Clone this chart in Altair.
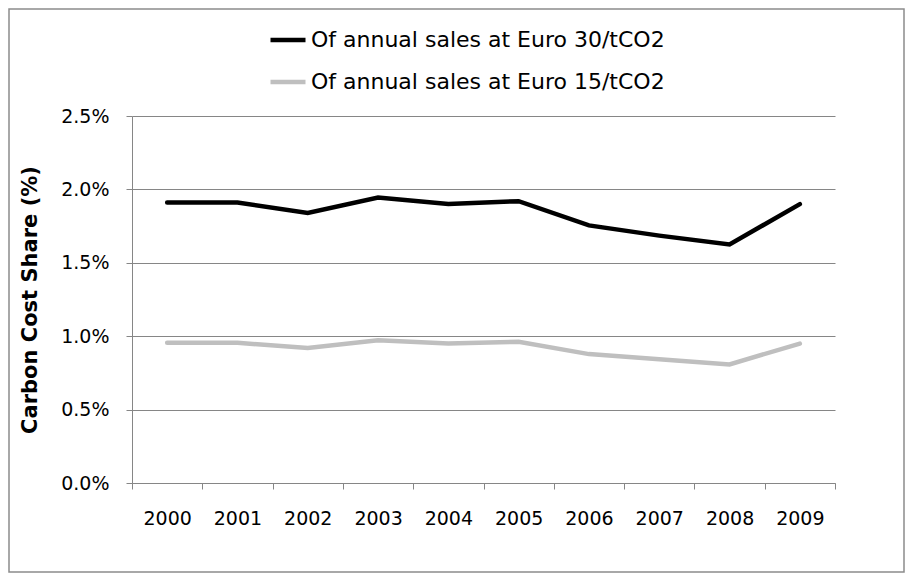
import altair as alt
import pandas as pd

years = ["2000", "2001", "2002", "2003", "2004", "2005", "2006", "2007", "2008", "2009"]
series_30 = [1.91, 1.91, 1.84, 1.945, 1.90, 1.92, 1.755, 1.685, 1.625, 1.90]
series_15 = [0.955, 0.955, 0.92, 0.972, 0.95, 0.962, 0.878, 0.843, 0.808, 0.95]
names = ["Of annual sales at Euro 30/tCO2", "Of annual sales at Euro 15/tCO2"]
colors = ["#000000", "#bfbfbf"]
y_ticks = [0, 0.005, 0.01, 0.015, 0.02, 0.025]

rows = []
for y, v in zip(years, series_30):
    rows.append({"year": y, "value": v / 100, "series": names[0]})
for y, v in zip(years, series_15):
    rows.append({"year": y, "value": v / 100, "series": names[1]})
df = pd.DataFrame(rows)

FONT = "DejaVu Sans"
PL, PT = 124, 108
W, H = 703, 367

border = alt.Chart(pd.DataFrame({"a": [0]})).mark_rect(
    fill=None, stroke="#8c8c8c", strokeWidth=1.5, clip=False
).encode(
    x=alt.value(-PL + 1), x2=alt.value(897 - PL - 1),
    y=alt.value(-PT + 1), y2=alt.value(565 - PT - 1),
)

lines = alt.Chart(df).mark_line(strokeWidth=4.5, strokeCap="round").encode(
    x=alt.X("year:O", sort=years,
            scale=alt.Scale(paddingInner=0, paddingOuter=0),
            axis=alt.Axis(title=None, labelAngle=0, tickBand="extent",
                          labelFontSize=19, labelFont=FONT, labelColor="#000",
                          labelPadding=20, tickSize=6, tickColor="#868686",
                          domainColor="#868686", grid=False)),
    y=alt.Y("value:Q",
            scale=alt.Scale(domain=[0, 0.025]),
            axis=alt.Axis(title="Carbon Cost Share (%)", format=".1%", values=y_ticks,
                          labelFontSize=19, labelFont=FONT, labelColor="#000",
                          titleFont=FONT, titleFontSize=21, titleFontWeight="bold",
                          titleColor="#000", titleX=-102, titleY=H / 2,
                          titleBaseline="middle", titleAngle=270,
                          labelPadding=17,
                          tickSize=6, tickColor="#868686", domainColor="#868686",
                          gridColor="#868686", gridWidth=1)),
    color=alt.Color("series:N",
                    scale=alt.Scale(domain=names, range=colors),
                    legend=alt.Legend(title=None, orient="none", legendX=136, legendY=-96,
                                      symbolType="stroke", symbolSize=1225,
                                      symbolStrokeWidth=4.5, labelFontSize=22,
                                      labelFont=FONT, labelColor="#000", labelLimit=0,
                                      rowPadding=11, labelOffset=3)),
)

chart = alt.layer(border, lines).properties(
    width=W, height=H,
    padding={"left": PL, "top": PT, "right": 897 - PL - W, "bottom": 565 - PT - H},
    autosize=alt.AutoSizeParams(type="none"),
).configure_view(stroke=None)

chart.save("out.html", embed_options={"renderer": "svg", "actions": False})
